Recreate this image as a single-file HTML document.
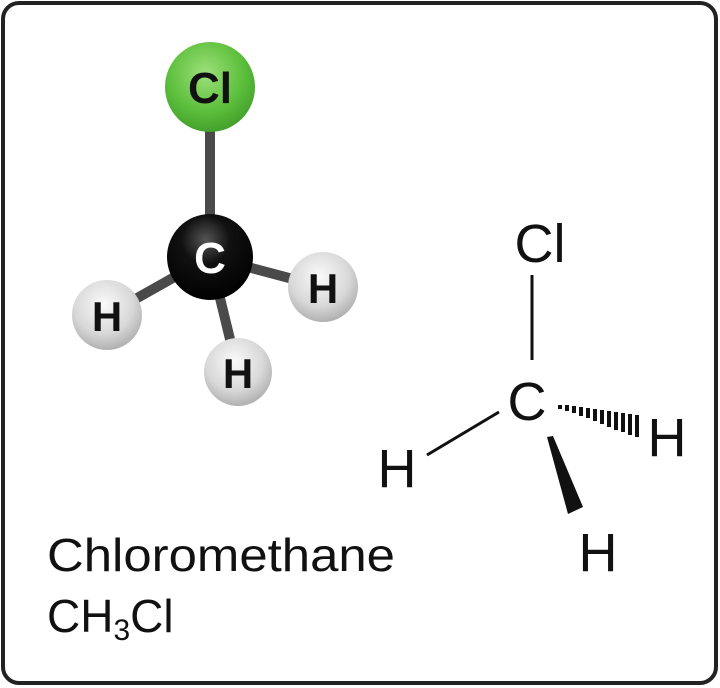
<!DOCTYPE html>
<html><head><meta charset="utf-8"><style>html,body{margin:0;padding:0;background:#fff}svg{display:block}</style></head>
<body>
<svg width="720" height="688" viewBox="0 0 720 688" xmlns="http://www.w3.org/2000/svg">
<defs>
<radialGradient id="gCl" cx="0.45" cy="0.35" r="0.7"><stop offset="0" stop-color="#9ee07a"/><stop offset="0.6" stop-color="#5cbf3c"/><stop offset="1" stop-color="#3f9a28"/></radialGradient>
<radialGradient id="gC" cx="0.45" cy="0.3" r="0.7"><stop offset="0" stop-color="#555"/><stop offset="0.4" stop-color="#111"/><stop offset="1" stop-color="#000"/></radialGradient>
<radialGradient id="gH" cx="0.45" cy="0.35" r="0.7"><stop offset="0" stop-color="#fafafa"/><stop offset="0.6" stop-color="#d8d8d8"/><stop offset="1" stop-color="#a8a8a8"/></radialGradient>
</defs>
<rect x="3" y="3" width="713" height="680" rx="16" fill="#fff" stroke="#222" stroke-width="4"/>
<g stroke="#4a4a4a" stroke-width="10">
<line x1="210" y1="100" x2="210" y2="240"/>
<line x1="210" y1="257" x2="107" y2="315"/>
<line x1="210" y1="257" x2="323" y2="287"/>
<line x1="210" y1="257" x2="238" y2="372"/>
</g>
<circle cx="210" cy="87" r="45" fill="url(#gCl)"/>
<circle cx="210" cy="257" r="43" fill="url(#gC)"/>
<circle cx="107" cy="315" r="35" fill="url(#gH)"/>
<circle cx="323" cy="287" r="35" fill="url(#gH)"/>
<circle cx="238" cy="372" r="34" fill="url(#gH)"/>
<g font-family="Liberation Sans, sans-serif" font-weight="bold" text-anchor="middle">
<text x="210" y="103" font-size="44" fill="#111">Cl</text>
<text x="210" y="273" font-size="44" fill="#fff">C</text>
<text x="107" y="331" font-size="42" fill="#111">H</text>
<text x="323" y="303" font-size="42" fill="#111">H</text>
<text x="238" y="388" font-size="42" fill="#111">H</text>
</g>
<g font-family="Liberation Sans, sans-serif" fill="#111" text-anchor="middle" font-size="54">
<text x="540" y="262">Cl</text>
<text x="527" y="420">C</text>
<text x="667" y="456">H</text>
<text x="397" y="487">H</text>
<text x="598" y="571">H</text>
</g>
<g stroke="#111" stroke-width="3">
<line x1="532" y1="275" x2="532" y2="360"/>
<line x1="427" y1="455" x2="499" y2="412"/>
</g>
<g stroke="#111" stroke-width="4">
<line x1="560" y1="405" x2="560" y2="409"/>
<line x1="567" y1="405" x2="567" y2="411"/>
<line x1="574" y1="406" x2="574" y2="413"/>
<line x1="581" y1="407" x2="581" y2="416"/>
<line x1="588" y1="408" x2="588" y2="418"/>
<line x1="595" y1="409" x2="595" y2="421"/>
<line x1="602" y1="410" x2="602" y2="424"/>
<line x1="609" y1="411" x2="609" y2="427"/>
<line x1="616" y1="412" x2="616" y2="430"/>
<line x1="623" y1="413" x2="623" y2="432"/>
<line x1="630" y1="414" x2="630" y2="435"/>
<line x1="637" y1="415" x2="637" y2="437"/>
</g>
<polygon points="547,437 553,436 583,507 568,514" fill="#111"/>
<g font-family="Liberation Sans, sans-serif" fill="#111" font-size="46">
<text x="47" y="571" textLength="348" lengthAdjust="spacingAndGlyphs">Chloromethane</text>
<text x="47" y="632">CH<tspan font-size="30" dy="8">3</tspan><tspan dy="-8">Cl</tspan></text>
</g>
</svg>
</body></html>
